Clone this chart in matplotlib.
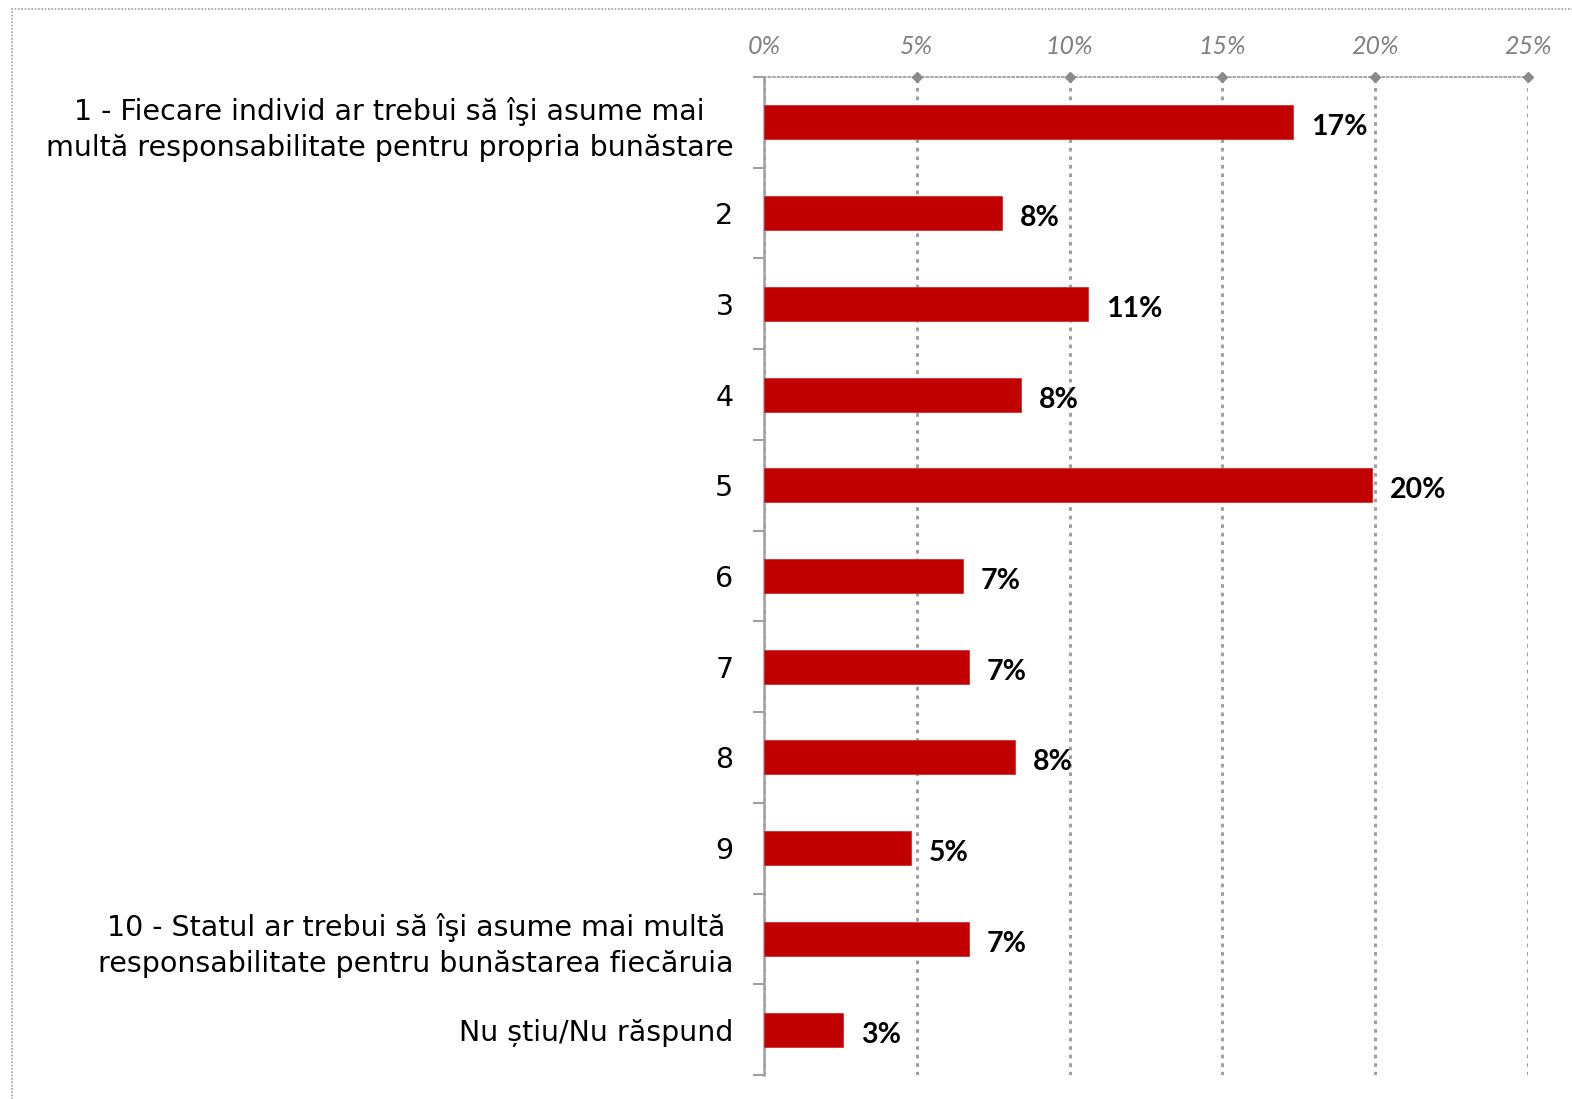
import matplotlib
matplotlib.use("Agg")
import matplotlib.pyplot as plt
from matplotlib.patches import Rectangle
from matplotlib.ticker import FixedLocator

categories = [
    "1 - Fiecare individ ar trebui să îşi asume mai\nmultă responsabilitate pentru propria bunăstare",
    "2", "3", "4", "5", "6", "7", "8", "9",
    "10 - Statul ar trebui să îşi asume mai multă\nresponsabilitate pentru bunăstarea fiecăruia",
    "Nu știu/Nu răspund",
]
values = [17.3, 7.8, 10.6, 8.4, 19.9, 6.5, 6.7, 8.2, 4.8, 6.7, 2.6]
value_labels = ["17%", "8%", "11%", "8%", "20%", "7%", "7%", "8%", "5%", "7%", "3%"]
x_ticks = [0, 5, 10, 15, 20, 25]
x_tick_labels = ["0%", "5%", "10%", "15%", "20%", "25%"]

W, H = 1572, 1099
fig = plt.figure(figsize=(W / 100, H / 100), dpi=100)
fig.patch.set_facecolor("white")

# outer dotted frame
fig.patches.append(Rectangle((12 / W, -0.05), 1.2, 1 - 9 / H + 0.05,
                             transform=fig.transFigure, fill=False,
                             edgecolor="#a0a0a0", linestyle=(0, (1, 1)), linewidth=1.2))

ax = fig.add_axes([764 / W, 1 - 1075 / H, (1528 - 764) / W, (1075 - 77) / H])
n = len(categories)
ypos = list(range(n))
ax.barh(ypos, values, height=0.375, color="#C00000", edgecolor="#d43030", linewidth=0.6, zorder=3)
ax.set_ylim(n - 0.5, -0.5)
ax.set_xlim(0, 25)

# value labels
for y, v, lab in zip(ypos, values, value_labels):
    ax.annotate(lab, (v, y), xytext=(18, -5), textcoords="offset pixels",
                ha="left", va="center", fontsize=20.5, fontweight="bold",
                family="Lato", color="black")

# y axis
ax.set_yticks(ypos)
ax.set_yticklabels(categories, fontsize=20.5, family="DejaVu Sans",
                   multialignment="center", linespacing=1.35, color="black")
ax.tick_params(axis="y", which="major", length=0, pad=22)
ax.yaxis.set_minor_locator(FixedLocator([i - 0.5 for i in range(n + 1)]))
ax.tick_params(axis="y", which="minor", length=8, width=1.5, color="#a0a0a0", direction="out")

# x axis on top
ax.xaxis.tick_top()
ax.set_xticks(x_ticks)
ax.set_xticklabels(x_tick_labels, fontsize=18, style="italic", family="Lato", color="#808080")
ax.tick_params(axis="x", length=0, pad=14)

# diamond markers at top axis ticks
ax.plot(x_ticks[1:], [-0.5] * (len(x_ticks) - 1), linestyle="none", marker="D", markersize=5,
        color="#8a8a8a", clip_on=False, zorder=5)

# gridlines
ax.grid(axis="x", color="#a0a0a0", linestyle=(0, (1.2, 1.6)), linewidth=2.2, zorder=0)
ax.grid(axis="y", visible=False)

for s in ["right", "bottom"]:
    ax.spines[s].set_visible(False)
ax.spines["left"].set_color("#a0a0a0")
ax.spines["left"].set_linewidth(1.8)
ax.spines["top"].set_color("#a0a0a0")
ax.spines["top"].set_linestyle((0, (1, 1.5)))
ax.spines["top"].set_linewidth(1.3)

fig.savefig("out.png", dpi=100, facecolor="white")
